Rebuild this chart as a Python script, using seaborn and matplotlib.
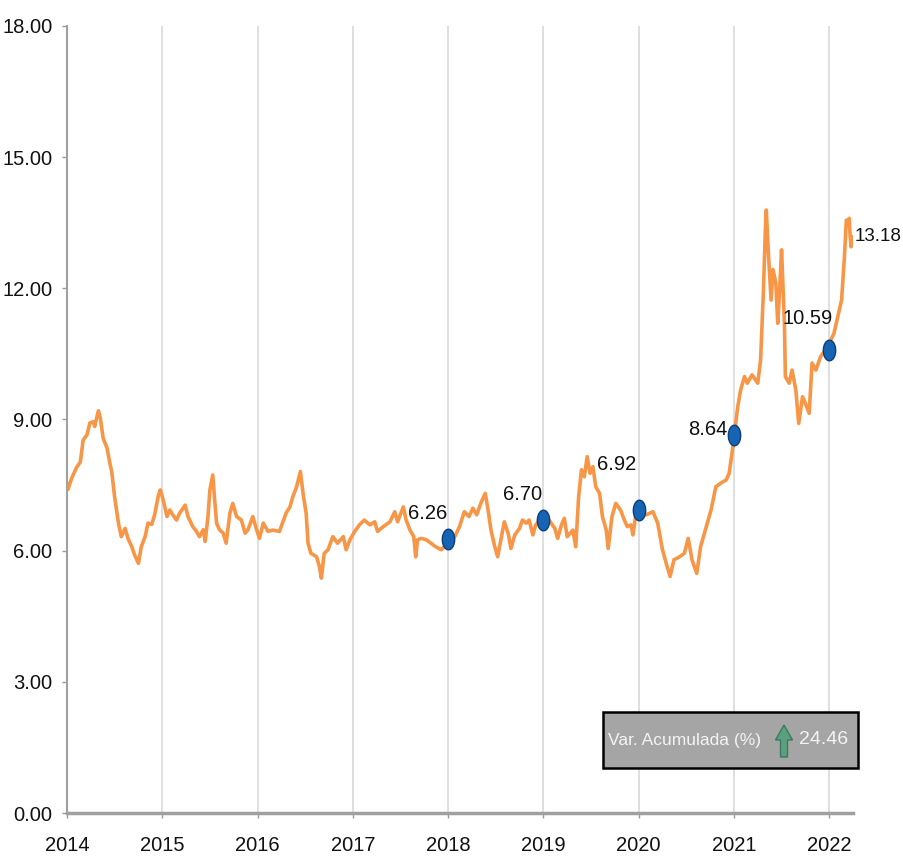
import matplotlib
matplotlib.use("Agg")
import matplotlib.pyplot as plt
import numpy as np
import pandas as pd
import seaborn as sns
from matplotlib.patches import Rectangle, FancyArrow
from matplotlib.path import Path

# price series (decimal year, value)
years = [
    2014.00, 2014.01, 2014.05, 2014.10, 2014.14, 2014.17, 2014.21, 2014.24, 2014.28, 2014.29,
    2014.33, 2014.35, 2014.38, 2014.42, 2014.45, 2014.47, 2014.50, 2014.54, 2014.57, 2014.61,
    2014.64, 2014.68, 2014.71, 2014.75, 2014.78, 2014.82, 2014.85, 2014.89, 2014.92, 2014.96,
    2014.98, 2015.01, 2015.05, 2015.08, 2015.11, 2015.15, 2015.18, 2015.24, 2015.27, 2015.32,
    2015.36, 2015.39, 2015.43, 2015.45, 2015.48, 2015.50, 2015.53, 2015.55, 2015.57, 2015.60,
    2015.64, 2015.67, 2015.71, 2015.74, 2015.78, 2015.83, 2015.87, 2015.90, 2015.95, 2015.99,
    2016.02, 2016.06, 2016.11, 2016.16, 2016.23, 2016.30, 2016.34, 2016.37, 2016.41, 2016.45,
    2016.48, 2016.51, 2016.53, 2016.56, 2016.62, 2016.65, 2016.67, 2016.70, 2016.74, 2016.79,
    2016.84, 2016.90, 2016.93, 2016.97, 2017.02, 2017.07, 2017.12, 2017.18, 2017.23, 2017.26,
    2017.32, 2017.39, 2017.44, 2017.47, 2017.53, 2017.56, 2017.60, 2017.64, 2017.66, 2017.68,
    2017.72, 2017.77, 2017.82, 2017.87, 2017.93, 2017.96, 2018.00, 2018.07, 2018.12, 2018.17,
    2018.22, 2018.26, 2018.30, 2018.35, 2018.39, 2018.42, 2018.45, 2018.49, 2018.52, 2018.56,
    2018.59, 2018.63, 2018.66, 2018.70, 2018.75, 2018.78, 2018.82, 2018.85, 2018.89, 2018.92,
    2018.96, 2019.00, 2019.06, 2019.12, 2019.15, 2019.19, 2019.22, 2019.25, 2019.31, 2019.34,
    2019.37, 2019.40, 2019.43, 2019.46, 2019.49, 2019.52, 2019.55, 2019.59, 2019.62, 2019.66,
    2019.68, 2019.72, 2019.76, 2019.81, 2019.85, 2019.88, 2019.92, 2019.94, 2019.97, 2020.00,
    2020.08, 2020.15, 2020.20, 2020.25, 2020.30, 2020.33, 2020.37, 2020.43, 2020.48, 2020.52,
    2020.56, 2020.61, 2020.65, 2020.71, 2020.76, 2020.81, 2020.86, 2020.92, 2020.95, 2020.98,
    2021.00, 2021.04, 2021.07, 2021.11, 2021.14, 2021.19, 2021.25, 2021.28, 2021.31, 2021.33,
    2021.34, 2021.36, 2021.39, 2021.41, 2021.44, 2021.46, 2021.48, 2021.50, 2021.53, 2021.54,
    2021.58, 2021.61, 2021.65, 2021.68, 2021.72, 2021.75, 2021.79, 2021.82, 2021.86, 2021.91,
    2021.96, 2022.00, 2022.05, 2022.09, 2022.13, 2022.16, 2022.18, 2022.20, 2022.21, 2022.22,
    2022.23, 2022.24,
]
prices = [
    7.55, 7.40, 7.66, 7.90, 8.03, 8.53, 8.65, 8.92, 8.95, 8.84,
    9.20, 9.03, 8.57, 8.35, 8.00, 7.80, 7.23, 6.63, 6.32, 6.51,
    6.28, 6.09, 5.90, 5.71, 6.09, 6.32, 6.63, 6.60, 6.82, 7.27,
    7.39, 7.16, 6.78, 6.93, 6.82, 6.70, 6.85, 7.04, 6.78, 6.55,
    6.44, 6.32, 6.48, 6.21, 6.78, 7.39, 7.73, 7.16, 6.63, 6.48,
    6.40, 6.17, 6.86, 7.08, 6.78, 6.70, 6.40, 6.48, 6.78, 6.48,
    6.28, 6.63, 6.44, 6.47, 6.44, 6.86, 7.00, 7.23, 7.46, 7.81,
    7.27, 6.86, 6.17, 5.94, 5.86, 5.63, 5.37, 5.94, 6.02, 6.32,
    6.17, 6.32, 6.02, 6.25, 6.44, 6.59, 6.70, 6.59, 6.66, 6.44,
    6.55, 6.66, 6.89, 6.66, 7.00, 6.70, 6.47, 6.32, 5.86, 6.25,
    6.28, 6.25, 6.17, 6.09, 6.02, 6.09, 6.20, 6.32, 6.55, 6.89,
    6.78, 6.97, 6.82, 7.12, 7.31, 6.93, 6.47, 6.09, 5.86, 6.32,
    6.66, 6.40, 6.05, 6.36, 6.51, 6.70, 6.63, 6.70, 6.36, 6.59,
    6.70, 6.74, 6.70, 6.51, 6.28, 6.59, 6.74, 6.32, 6.47, 6.09,
    7.23, 7.85, 7.69, 8.15, 7.77, 7.92, 7.46, 7.31, 6.78, 6.47,
    6.05, 6.78, 7.08, 6.93, 6.70, 6.55, 6.59, 6.36, 6.82, 6.86,
    6.82, 6.89, 6.63, 6.02, 5.63, 5.41, 5.79, 5.86, 5.94, 6.28,
    5.79, 5.48, 6.09, 6.55, 6.93, 7.46, 7.54, 7.62, 7.77, 8.23,
    8.57, 9.29, 9.67, 9.98, 9.83, 10.02, 9.83, 10.36, 11.96, 13.34,
    13.79, 12.88, 11.73, 12.43, 12.12, 11.20, 11.96, 12.88, 11.20, 9.98,
    9.83, 10.13, 9.67, 8.91, 9.52, 9.37, 9.14, 10.29, 10.13, 10.44,
    10.59, 10.74, 10.97, 11.35, 11.73, 12.72, 13.56, 13.49, 13.60, 13.18,
    12.95, 13.18,
]

# year-start points with labels
mark_years = [2018, 2019, 2020, 2021, 2022]
mark_values = [6.26, 6.70, 6.92, 8.64, 10.59]
mark_offsets = [(-20, 26), (-21, 26), (-22, 46), (-26, 6), (-22, 31)]
last_value = 13.18
var_acum = 24.46

year_ticks = list(range(2014, 2023))
value_ticks = [0, 3, 6, 9, 12, 15, 18]

sns.set_theme(style="white")
plt.rcParams["font.family"] = ["Liberation Sans", "DejaVu Sans"]

df = pd.DataFrame({"year": years, "price": prices})
marks = pd.DataFrame({"year": mark_years, "price": mark_values})

# tall oval marker, like the stretched spheres in the source
t = np.linspace(0, 2 * np.pi, 40)
oval = Path(np.column_stack([0.3 * np.cos(t), 0.5 * np.sin(t)]), closed=True)

fig = plt.figure(figsize=(9.04, 8.65), dpi=100)
ax = fig.add_axes([0.0741, 0.0601, 0.8695, 0.9099])

for yr in year_ticks[1:]:
    ax.axvline(yr, color="#d9d9d9", lw=1.2, zorder=0)

sns.lineplot(data=df, x="year", y="price", ax=ax, color="#f79646",
             lw=2.6, estimator=None, sort=False, zorder=2)
sns.scatterplot(data=marks, x="year", y="price", ax=ax, s=220, marker=oval,
                color="#1764b4", edgecolor="#0b3f7a", linewidth=1.0, zorder=3)

for yr, val, off in zip(mark_years, mark_values, mark_offsets):
    ax.annotate(f"{val:.2f}", (yr, val), xytext=off, textcoords="offset pixels",
                ha="center", va="center", fontsize=14.5, color="#111111")
ax.annotate(f"{last_value:.2f}", (years[-1], prices[-1]), xytext=(3, 0),
            textcoords="offset pixels", ha="left", va="center",
            fontsize=13.5, color="#111111")

ax.set_xlim(2014, 2022.25)
ax.set_ylim(0, 18)
ax.set_xticks(year_ticks)
ax.set_xticklabels([str(y) for y in year_ticks])
ax.set_yticks(value_ticks)
ax.set_yticklabels([f"{v:.2f}" for v in value_ticks])
ax.set_xlabel("")
ax.set_ylabel("")
ax.tick_params(axis="both", labelsize=14.5, labelcolor="#111111", length=3.6,
               width=1, direction="out", bottom=True, left=True, color="#999999")
ax.tick_params(axis="x", pad=13)
ax.tick_params(axis="y", pad=7)
for side in ("top", "right"):
    ax.spines[side].set_visible(False)
ax.spines["left"].set_color("#a0a0a0")
ax.spines["left"].set_linewidth(1.5)
ax.spines["bottom"].set_color("#a0a0a0")
ax.spines["bottom"].set_linewidth(2.5)

# accumulated variation box
fig.patches.append(Rectangle((603 / 904, 97 / 865), 255 / 904, 56 / 865,
                             transform=fig.transFigure, facecolor="#a5a5a5",
                             edgecolor="black", lw=1.8, zorder=5))
fig.text(608 / 904, 125 / 865, "Var. Acumulada (%)", color="#f4f4f4",
         fontsize=12.5, ha="left", va="center", zorder=6)
fig.patches.append(FancyArrow(784 / 904, 108 / 865, 0, 32 / 865,
                              width=7 / 904, head_width=17 / 904,
                              head_length=15 / 865, length_includes_head=True,
                              transform=fig.transFigure, facecolor="#5c9f80",
                              edgecolor="#3b7a5d", lw=1, zorder=6))
fig.text(848 / 904, 125 / 865, f"{var_acum:.2f}", color="#f4f4f4",
         fontsize=14, ha="right", va="center", zorder=6)

fig.savefig("out.png", dpi=100)
